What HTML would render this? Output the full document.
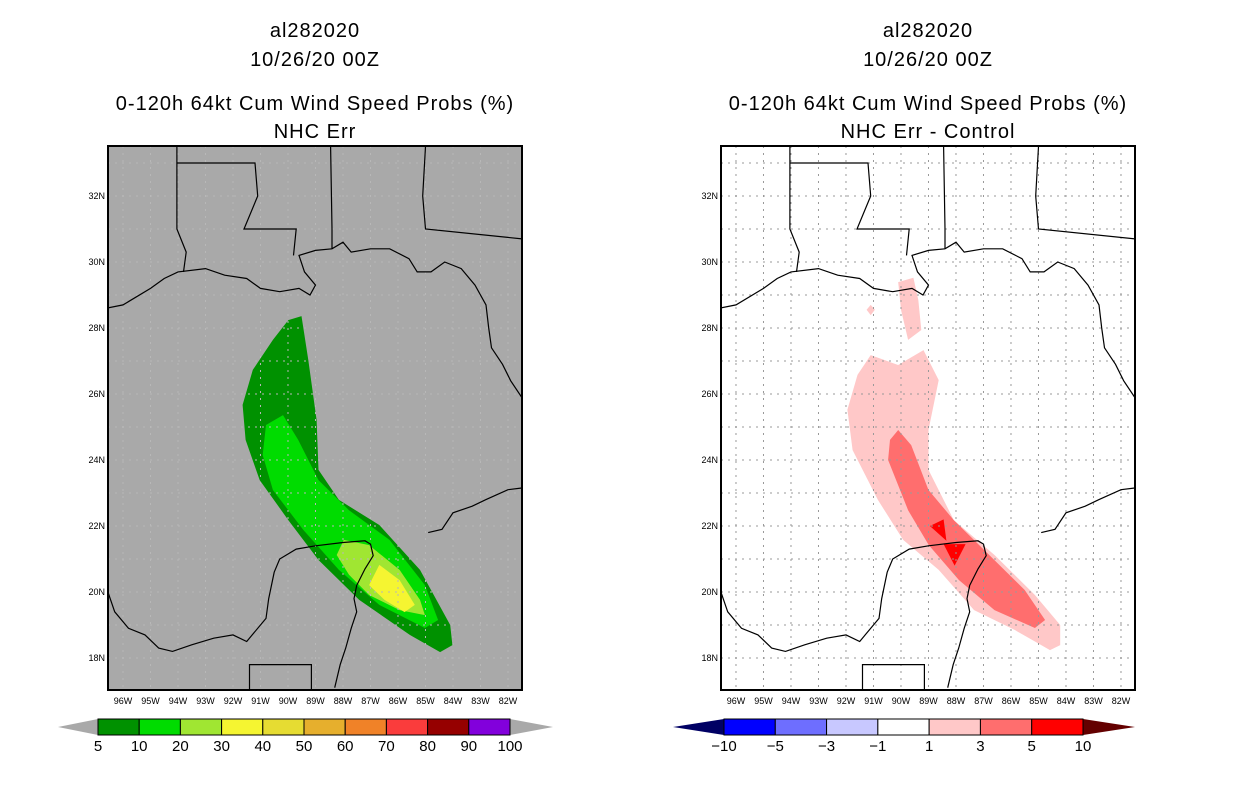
<!DOCTYPE html>
<html><head><meta charset="utf-8">
<style>
html,body{margin:0;padding:0;background:#fff;}
svg{display:block;font-family:"Liberation Sans",sans-serif;}
.ttl{font-size:20px;letter-spacing:1px;text-anchor:middle;}
.tick{font-size:9px;}
.cb{font-size:15px;text-anchor:middle;}
</style></head>
<body>
<svg id="fig" width="1236" height="800" viewBox="0 0 1236 800">
<g>
<text class="ttl" x="315" y="37">al282020</text>
<text class="ttl" x="315" y="66">10/26/20 00Z</text>
<text class="ttl" x="315" y="110">0-120h 64kt Cum Wind Speed Probs (%)</text>
<text class="ttl" x="315" y="138">NHC Err</text>
</g>
<g>
<text class="ttl" x="928" y="37">al282020</text>
<text class="ttl" x="928" y="66">10/26/20 00Z</text>
<text class="ttl" x="928" y="110">0-120h 64kt Cum Wind Speed Probs (%)</text>
<text class="ttl" x="928" y="138">NHC Err - Control</text>
</g>
<g id="left"></g>
<g id="right"></g>
<g id="cbl"></g>
<g id="cbr"></g>
</svg>
<script>
const NS="http://www.w3.org/2000/svg";
const latTicks=[18,20,22,24,26,28,30,32];
const lonTicks=[96,95,94,93,92,91,90,89,88,87,86,85,84,83,82];
const usCoast=[[-96.6,28.6],[-96,28.7],[-95,29.2],[-94.5,29.5],[-94,29.7],[-93,29.8],[-92.3,29.6],[-91.5,29.5],[-91,29.2],[-90.3,29.1],[-89.6,29.2],[-89.2,29.0],[-89.0,29.3],[-89.4,29.7],[-89.6,30.2],[-89,30.35],[-88.4,30.4],[-88,30.6],[-87.7,30.3],[-87,30.4],[-86.3,30.4],[-85.6,30.1],[-85.3,29.7],[-84.8,29.7],[-84.3,30.0],[-83.7,29.8],[-83.2,29.3],[-82.8,28.7],[-82.7,28.0],[-82.6,27.4],[-82.2,26.9],[-81.9,26.4],[-81.5,25.9]];
const mxCoast=[[-96.55,20.0],[-96.3,19.4],[-95.8,18.9],[-95.2,18.7],[-94.7,18.3],[-94.2,18.2],[-93.5,18.4],[-92.7,18.6],[-92,18.7],[-91.5,18.5],[-91.3,18.7],[-90.8,19.2],[-90.7,19.8],[-90.5,20.6],[-90.3,21.0],[-89.7,21.3],[-89,21.4],[-88,21.5],[-87.2,21.55],[-87.0,21.45],[-86.9,21.1],[-87.2,20.7],[-87.5,20.2],[-87.6,19.8],[-87.5,19.4],[-87.7,18.9],[-87.9,18.3],[-88.1,17.8],[-88.3,17.1]];
const cuba=[[-84.9,21.8],[-84.4,21.9],[-84,22.4],[-83.3,22.6],[-82.8,22.8],[-82,23.1],[-81.5,23.15]];
const borders=[[[-94.04,33.5],[-94.04,31.0],[-93.7,30.3],[-93.8,29.7]],[[-94.04,33.0],[-91.2,33.0],[-91.1,32.0],[-91.6,31.0],[-89.7,31.0],[-89.8,30.2]],[[-88.45,33.5],[-88.4,31.0],[-88.4,30.4]],[[-85.0,33.5],[-85.1,32.0],[-85.0,31.0],[-81.48,30.7]],[[-91.4,16.9],[-91.4,17.8],[-89.15,17.8],[-89.15,16.9]]];
const p5=[[-89.99,28.24],[-89.51,28.36],[-89.26,27.03],[-88.96,25.21],[-88.89,23.70],[-88.15,22.79],[-86.68,22.03],[-85.20,20.67],[-84.10,19.0],[-84.02,18.39],[-84.47,18.18],[-85.57,18.70],[-87.41,19.76],[-88.89,20.97],[-89.99,22.18],[-91.03,23.39],[-91.54,24.61],[-91.65,25.67],[-91.28,26.73],[-90.55,27.64]];
const p10=[[-90.18,25.36],[-89.63,24.61],[-88.89,23.39],[-87.78,22.48],[-86.31,21.58],[-85.02,20.21],[-84.54,19.15],[-85.02,18.91],[-86.68,19.61],[-88.15,20.67],[-89.44,21.88],[-90.55,23.09],[-90.92,24.15],[-90.80,25.06]];
const p20=[[-87.97,21.58],[-87.05,21.42],[-85.94,20.67],[-85.20,19.76],[-85.02,19.30],[-85.94,19.45],[-87.05,19.91],[-87.78,20.52],[-88.23,21.12]];
const p30=[[-86.68,20.82],[-85.94,20.36],[-85.39,19.61],[-85.76,19.39],[-86.49,19.76],[-87.05,20.21]];
const d1a=[[-91.10,27.18],[-90.10,26.88],[-89.18,27.33],[-88.63,26.42],[-89.0,24.91],[-89.0,23.70],[-88.08,22.18],[-86.60,21.12],[-85.13,19.91],[-84.21,19.0],[-84.21,18.39],[-84.58,18.24],[-85.87,18.85],[-87.34,19.45],[-88.63,20.67],[-89.92,21.58],[-90.84,22.79],[-91.76,24.30],[-91.95,25.52],[-91.58,26.58]];
const d1b=[[-90.10,29.39],[-89.55,29.52],[-89.37,28.85],[-89.26,27.94],[-89.74,27.64],[-90.0,28.55]];
const d1c=[[-91.10,28.70],[-90.95,28.55],[-91.10,28.39],[-91.25,28.55]];
const d3=[[-90.10,24.91],[-89.63,24.45],[-89.0,23.09],[-88.08,22.18],[-86.97,21.27],[-85.50,20.06],[-84.76,19.15],[-85.13,18.91],[-86.60,19.45],[-87.89,20.36],[-88.99,21.42],[-89.74,22.48],[-90.47,24.0],[-90.40,24.61]];
const d5a=[[-88.95,22.0],[-88.45,22.2],[-88.35,21.55]];
const d5b=[[-88.45,21.45],[-87.65,21.45],[-88.05,20.8]];
const leftLevels=["5","10","20","30","40","50","60","70","80","90","100"];
const leftColors=["#009100","#00dc00","#a0e632","#f5f531","#e6dc32","#e6af2d","#f08228","#fa3c3c","#960000","#8200dc"];
const rightLevels=["-10","-5","-3","-1","1","3","5","10"];
const rightColors=["#0000ff","#6e6eff","#c8c8ff","#ffffff","#ffc8c8","#ff6e6e","#ff0000"];

const X0=108,X1=522,Y0=146,Y1=690,LONW=-96.545,LATN=33.515;
function sx(lon,off){return off+X0+(lon-LONW)*27.5;}
function sy(lat){return Y0+(LATN-lat)*33;}
function el(tag,attrs,parent){const e=document.createElementNS(NS,tag);for(const k in attrs)e.setAttribute(k,attrs[k]);parent.appendChild(e);return e;}
function pts(arr,off){return arr.map(p=>sx(p[0],off).toFixed(1)+","+sy(p[1]).toFixed(1)).join(" ");}

function panel(g,off,bg,polys,gc,cid){
  const cp=el("clipPath",{id:cid},g);
  el("rect",{x:X0+off,y:Y0,width:X1-X0,height:Y1-Y0},cp);
  const bgr=el("rect",{x:X0+off,y:Y0,width:X1-X0,height:Y1-Y0,fill:bg},g);
  
  
  const inner=el("g",{"clip-path":"url(#"+cid+")"},g);
  polys.forEach(([arr,col,name])=>{
    const p=el("polygon",{points:pts(arr,off),fill:col},inner);
    
    
  });
  const gg=el("g",{stroke:gc,"stroke-width":1,"stroke-dasharray":"2,5",fill:"none"},inner);
  
  
  for(let lo=-96;lo<=-82;lo++){el("line",{x1:sx(lo,off),x2:sx(lo,off),y1:Y0,y2:Y1},gg);}
  for(let la=17;la<=33;la++){el("line",{x1:X0+off,x2:X1+off,y1:sy(la),y2:sy(la)},gg);}
  const cg=el("g",{stroke:"#000","stroke-width":1.2,fill:"none"},inner);
  
  
  [usCoast,mxCoast,cuba].forEach(c=>el("polyline",{points:pts(c,off)},cg));
  borders.forEach(c=>el("polyline",{points:pts(c,off)},cg));
  const fr=el("rect",{x:X0+off,y:Y0,width:X1-X0,height:Y1-Y0,fill:"none",stroke:"#000","stroke-width":2},g);
  
  
  latTicks.forEach(la=>{
    const t=el("text",{x:X0+off-3,y:sy(la)+3,"text-anchor":"end",class:"tick"},g);
    t.textContent=la+"N";
    
    
  });
  lonTicks.forEach(lo=>{
    const t=el("text",{x:sx(-lo,off),y:Y1+14,"text-anchor":"middle",class:"tick"},g);
    t.textContent=lo+"W";
    
    
  });
}
panel(document.getElementById("left"),0,"#a9a9a9",[[p5,"#009100","prob-5-contour"],[p10,"#00dc00","prob-10-contour"],[p20,"#a0e632","prob-20-contour"],[p30,"#f5f531","prob-30-contour"]],"#b8b8b8","cl");
panel(document.getElementById("right"),613,"#ffffff",[[d1a,"#ffc8c8","diff-1-contour"],[d1b,"#ffc8c8","diff-1-contour-north"],[d1c,"#ffc8c8","diff-1-contour-blob"],[d3,"#ff6e6e","diff-3-contour"],[d5a,"#ff0000","diff-5-contour-a"],[d5b,"#ff0000","diff-5-contour-b"]],"#999","cr");

function colorbar(g,x0,x1,tipL,tipR,colors,levels,lc,rc){
  const y0=719,y1=735,w=(x1-x0)/colors.length;
  const lt=el("polygon",{points:`${tipL},${(y0+y1)/2} ${x0},${y0} ${x0},${y1}`,fill:lc},g);
  
  
  const rt=el("polygon",{points:`${tipR},${(y0+y1)/2} ${x1},${y0} ${x1},${y1}`,fill:rc},g);
  
  
  colors.forEach((c,i)=>{
    const r=el("rect",{x:x0+i*w,y:y0,width:w,height:y1-y0,fill:c,stroke:"#000","stroke-width":1},g);
    
    
  });
  levels.forEach((l,i)=>{
    const t=el("text",{x:x0+i*w,y:751,class:"cb"},g);
    t.textContent=l.replace("-","\u2212");
    
    
  });
}
colorbar(document.getElementById("cbl"),98,510,58,553,leftColors,leftLevels,"#a9a9a9","#a9a9a9");
colorbar(document.getElementById("cbr"),724,1083,673,1135,rightColors,rightLevels,"#000064","#640000");
</script>
</body></html>
